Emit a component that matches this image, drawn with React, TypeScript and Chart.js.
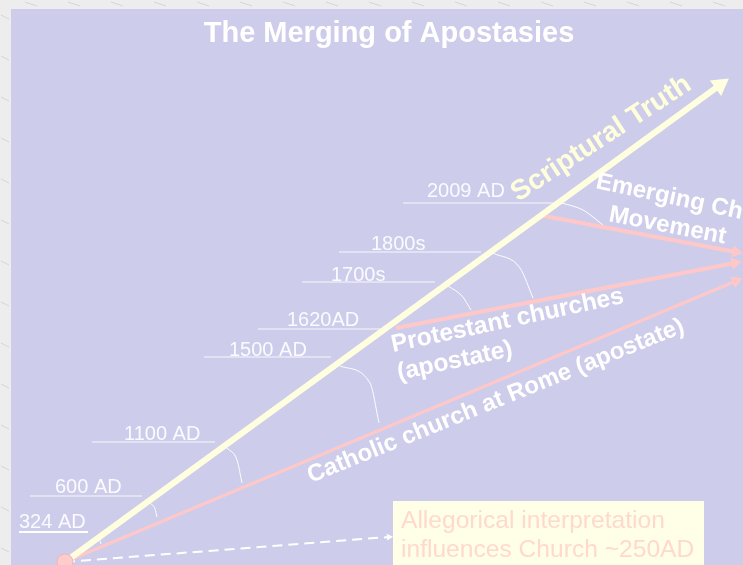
import React, { useEffect, useRef } from 'react';
import { Chart, registerables } from 'chart.js';

Chart.register(...registerables);

// Diagram space: slide units (0..743 across, 0..565 down)
const SLIDE_W = 743;
const SLIDE_H = 565;
const panel = { x0: 11, y0: 9, x1: 743, y1: 565 };

// Main lines (start point, end point = arrowhead centre)
const origin = { x: 65, y: 562 };
const truthEnd = { x: 720, y: 85 };
const catholicEnd = { x: 736, y: 281 };
const protestantStart = { x: 396, y: 328 };
const protestantEnd = { x: 735, y: 263 };
const emergingStart = { x: 539, y: 215 };
const emergingEnd = { x: 736, y: 252 };
const allegoryEnd = { x: 389, y: 537 };

// Era labels and their underlines
const yearLabels = ['324 AD', '600 AD', '1100 AD', '1500 AD', '1620AD', '1700s', '1800s', '2009 AD'];
const yearLabelX = [19, 55, 124, 229, 287, 331, 371, 427];
const yearLabelY = [528, 493, 440, 356, 326, 281, 250, 197];
const underlineStart = [19, 30, 92, 204, 258, 302, 339, 403];
const underlineEnd = [88, 142, 215, 331, 380, 435, 481, 553];
const underlineY = [532, 496, 442, 357, 329, 282, 252, 203];

// Angle arcs: start / middle / end points
const arcX = [
  [97, 99.5, 101],
  [150, 155, 157],
  [227, 237, 242],
  [340, 370, 379],
  [448, 462, 471],
  [493, 520, 533],
  [562, 583, 603],
];
const arcY = [
  [538, 540, 544],
  [503, 509, 517],
  [448, 460, 483],
  [366, 383, 423],
  [286, 296, 310],
  [253, 268, 298],
  [203, 210, 225],
];

const titleText = 'The Merging of Apostasies';
const allegoryLines = ['Allegorical interpretation', 'influences Church ~250AD'];
const allegoryBox = { x0: 393, y0: 501, x1: 704, y1: 566 };
const allegoryTextX = 401;
const allegoryTextY = [528, 557];

// Rotated captions: text, anchor (left baseline), angle in degrees
const captionText = ['Scriptural Truth', 'Emerging Church', 'Movement', 'Protestant churches', '(apostate)', 'Catholic church at Rome (apostate)'];
const captionX = [518, 595, 608, 393, 399, 311];
const captionY = [202, 188, 221, 352, 380, 483];
const captionAngle = [-33, 12, 11, -12, -12, -22];
const captionSize = [28, 24, 24, 24.5, 24.5, 24];
const captionColor = ['#FFFFDC', '#FFFFFF', '#FFFFFF', '#FFFFFF', '#FFFFFF', '#FFFFFF'];

const FONT = '"Liberation Sans", Arial, Helvetica, sans-serif';
const CREAM = '#FFFFE0';
const PINK = '#FFC8C8';
const PURPLE = '#CDCDEB';

function rot(a: { x: number; y: number }, b: { x: number; y: number }) {
  return (Math.atan2(b.x - a.x, -(b.y - a.y)) * 180) / Math.PI;
}

function arrowDataset(a: any, b: any, color: string, width: number, head: number, order: number, dash?: number[]) {
  return {
    type: 'line' as const,
    data: [a, b],
    borderColor: color,
    borderWidth: width,
    borderDash: dash || [],
    pointStyle: 'triangle',
    pointRadius: [0, head],
    pointHoverRadius: [0, head],
    pointBackgroundColor: color,
    pointBorderColor: color,
    pointBorderWidth: 0,
    rotation: [0, rot(a, b)],
    borderCapStyle: 'butt' as const,
    order,
  };
}

export default function App() {
  const ref = useRef<HTMLCanvasElement>(null);

  useEffect(() => {
    if (!ref.current) return;

    const datasets: any[] = [];
    // origin dot
    datasets.push({
      type: 'scatter',
      data: [origin],
      pointRadius: 8,
      pointBackgroundColor: '#FFCCCC',
      pointBorderColor: '#F2B4B4',
      pointBorderWidth: 1,
      order: 0,
    });
    datasets.push(arrowDataset(origin, truthEnd, CREAM, 6, 11, 1));
    datasets.push(arrowDataset(origin, catholicEnd, PINK, 3, 7, 2));
    datasets.push(arrowDataset(protestantStart, protestantEnd, PINK, 4, 7, 2));
    datasets.push(arrowDataset(emergingStart, emergingEnd, PINK, 4, 7, 2));
    datasets.push(arrowDataset(origin, allegoryEnd, '#FFFFFF', 2, 4, 3, [10, 6]));

    arcX.forEach((xs, i) => {
      datasets.push({
        type: 'line',
        data: xs.map((x, j) => ({ x, y: arcY[i][j] })),
        borderColor: 'rgba(255,255,255,0.95)',
        borderWidth: 1,
        pointRadius: 0,
        cubicInterpolationMode: 'monotone',
        order: 4,
      });
    });

    yearLabels.forEach((_, i) => {
      datasets.push({
        type: 'line',
        data: [
          { x: underlineStart[i], y: underlineY[i] },
          { x: underlineEnd[i], y: underlineY[i] },
        ],
        borderColor: i === 0 ? '#FFFFFF' : 'rgba(255,255,255,0.85)',
        borderWidth: i === 0 ? 2 : 1,
        pointRadius: 0,
        order: 5,
      });
    });

    const decor = {
      id: 'decor',
      beforeDraw(c: any) {
        const ctx = c.ctx;
        const sx = c.scales.x;
        const sy = c.scales.y;
        ctx.save();
        ctx.fillStyle = '#EDEDED';
        ctx.fillRect(0, 0, c.width, c.height);
        ctx.strokeStyle = 'rgba(190,190,190,0.5)';
        ctx.lineWidth = 1;
        for (let i = 0; i < 14; i++) {
          const yy = 15 + i * 41;
          ctx.beginPath();
          ctx.moveTo(1, yy);
          ctx.lineTo(9, yy + 4);
          ctx.stroke();
        }
        for (let i = 0; i < 18; i++) {
          const xx = 25 + i * 43;
          ctx.beginPath();
          ctx.moveTo(xx, 2);
          ctx.lineTo(xx + 12, 6);
          ctx.stroke();
        }
        const x0 = sx.getPixelForValue(panel.x0);
        const y0 = sy.getPixelForValue(panel.y0);
        const x1 = sx.getPixelForValue(panel.x1);
        const y1 = sy.getPixelForValue(panel.y1);
        ctx.fillStyle = PURPLE;
        ctx.fillRect(x0, y0, x1 - x0, y1 - y0);
        ctx.restore();
      },
      afterDatasetsDraw(c: any) {
        const ctx = c.ctx;
        const sx = c.scales.x;
        const sy = c.scales.y;
        const X = (v: number) => sx.getPixelForValue(v);
        const Y = (v: number) => sy.getPixelForValue(v);
        ctx.save();
        // title
        ctx.fillStyle = '#FFFFFF';
        ctx.font = `bold 29px ${FONT}`;
        ctx.textAlign = 'center';
        ctx.textBaseline = 'alphabetic';
        ctx.fillText(titleText, X(389), Y(42));

        // year labels
        ctx.textAlign = 'left';
        ctx.font = `20px ${FONT}`;
        ctx.fillStyle = '#FAFAFF';
        yearLabels.forEach((t, i) => {
          ctx.fillText(t, X(yearLabelX[i]), Y(yearLabelY[i]));
        });

        // rotated captions
        captionText.forEach((t, i) => {
          ctx.save();
          ctx.translate(X(captionX[i]), Y(captionY[i]));
          ctx.rotate((captionAngle[i] * Math.PI) / 180);
          ctx.font = `bold ${captionSize[i]}px ${FONT}`;
          ctx.fillStyle = captionColor[i];
          ctx.fillText(t, 0, 0);
          ctx.restore();
        });

        // allegorical box
        const bx0 = X(allegoryBox.x0);
        const by0 = Y(allegoryBox.y0);
        ctx.fillStyle = '#FFFFE8';
        ctx.fillRect(bx0, by0, X(allegoryBox.x1) - bx0, Y(allegoryBox.y1) - by0);
        ctx.fillStyle = '#FFD9CC';
        ctx.font = `24.6px ${FONT}`;
        allegoryLines.forEach((t, i) => {
          ctx.fillText(t, X(allegoryTextX), Y(allegoryTextY[i]));
        });
        ctx.restore();
      },
    };

    const chart = new Chart(ref.current, {
      type: 'line',
      data: { datasets },
      options: {
        animation: false,
        responsive: false,
        events: [],
        layout: { padding: 0, autoPadding: false },
        scales: {
          x: { type: 'linear', min: 0, max: SLIDE_W, display: false },
          y: { type: 'linear', min: 0, max: SLIDE_H, reverse: true, display: false },
        },
        plugins: {
          legend: { display: false },
          tooltip: { enabled: false },
          title: { display: false },
        },
      },
      plugins: [decor],
    } as any);

    return () => chart.destroy();
  }, []);

  return (
    <div style={{ position: 'absolute', left: 0, top: 0, width: SLIDE_W, height: SLIDE_H }}>
      <canvas ref={ref} width={SLIDE_W} height={SLIDE_H} style={{ display: 'block' }} />
    </div>
  );
}
